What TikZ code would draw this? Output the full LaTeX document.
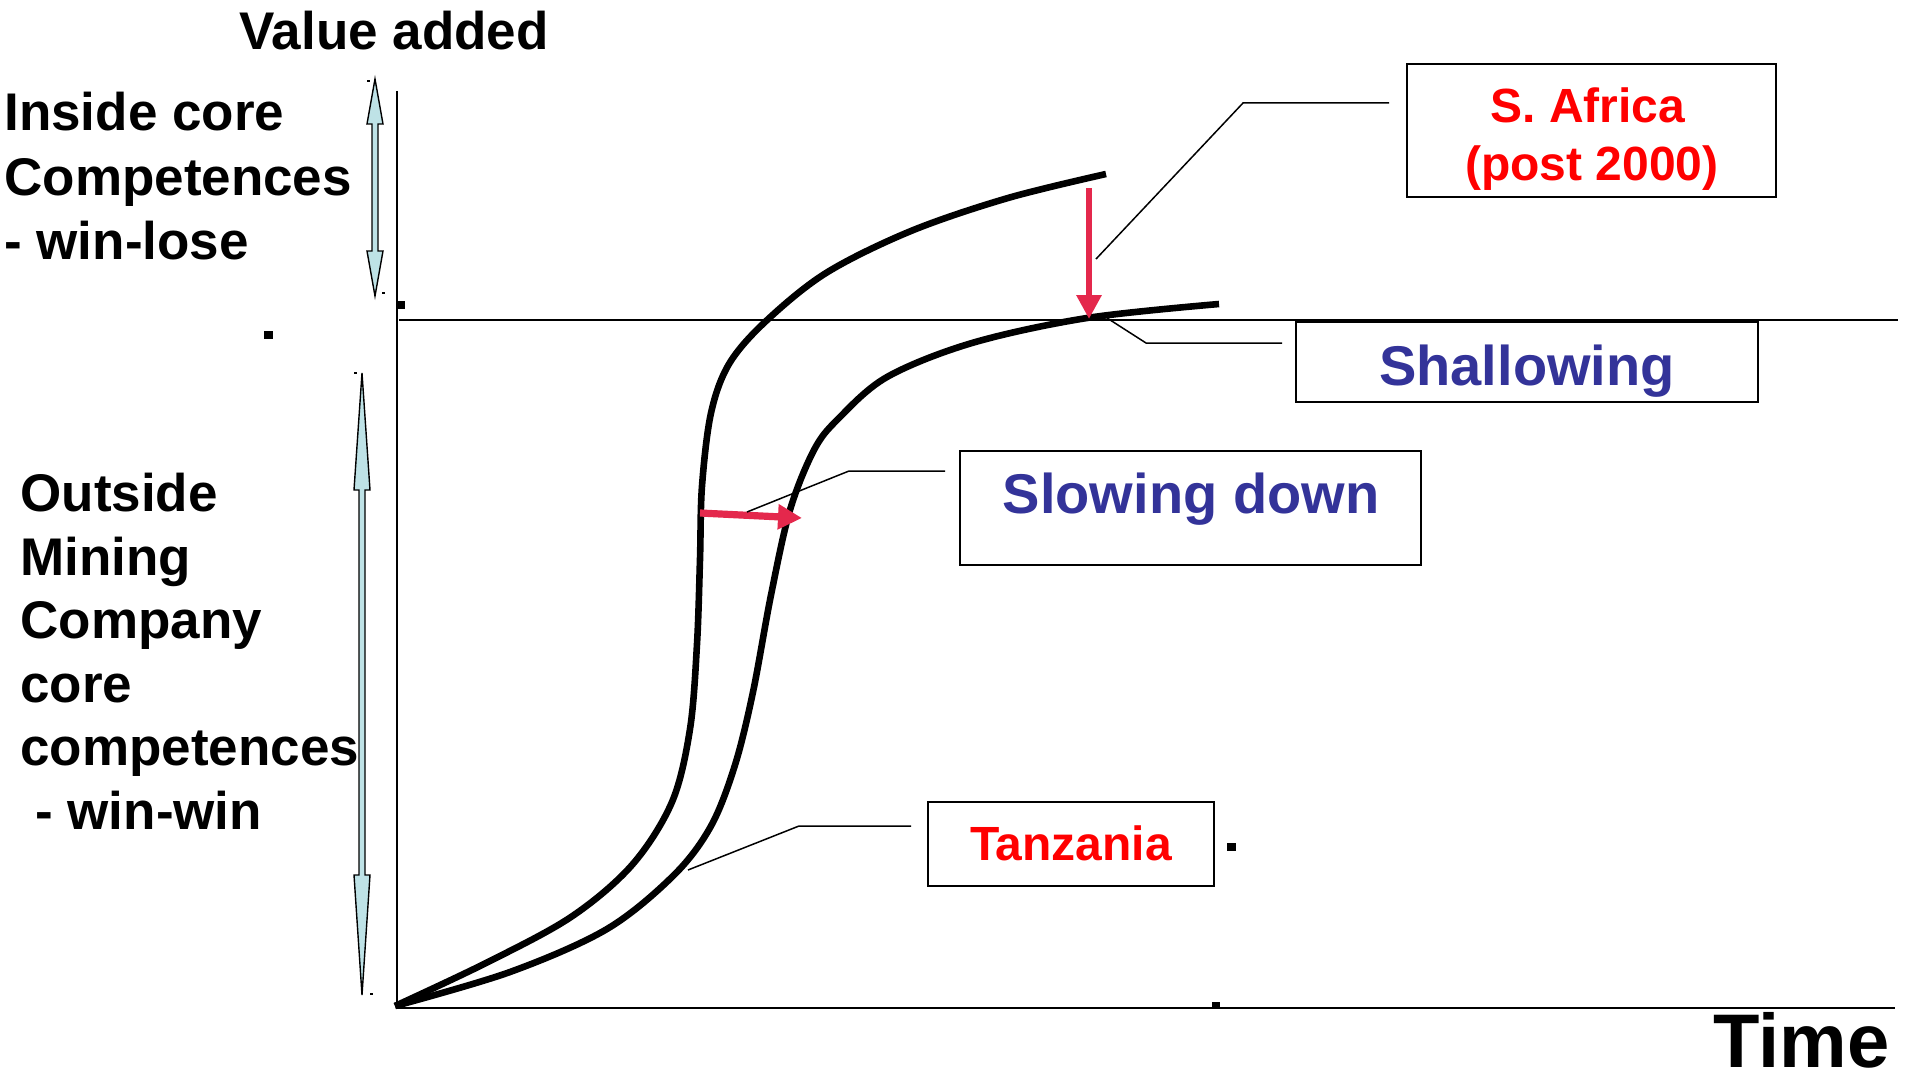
\documentclass[tikz,border=0pt]{standalone}
\usepackage{fontspec}
\setmainfont{Liberation Sans}
\usetikzlibrary{arrows.meta}
\definecolor{redtxt}{RGB}{255,0,0}
\definecolor{bluetxt}{RGB}{51,51,153}
\definecolor{crim}{RGB}{228,40,76}
\definecolor{lblue}{RGB}{190,226,230}
\begin{document}
\begin{tikzpicture}[x=0.5pt,y=-0.5pt,
  lbl/.style={font=\fontsize{26.5}{32}\selectfont\bfseries, anchor=base west, inner sep=0},
  redt/.style={font=\fontsize{24}{28}\selectfont\bfseries, text=redtxt, anchor=base, inner sep=0},
  bluet/.style={font=\fontsize{28}{33}\selectfont\bfseries, text=bluetxt, anchor=base, inner sep=0},
  timet/.style={font=\fontsize{38}{44}\selectfont\bfseries, anchor=base east, inner sep=0},
  labelbox/.style={draw, line width=1pt, inner sep=0},
  axisline/.style={line width=1pt},
  leader/.style={line width=0.75pt},
  curve/.style={line width=3.3pt, line join=round},
  redarrow/.style={draw=crim, line width=#1, -{Triangle[length=12pt,width=12pt]}, color=crim},
  dblarrow/.style={draw=black, fill=lblue, line width=0.7pt, line join=miter},
  dotsq/.style={fill=black}
]
\useasboundingbox (0,0) rectangle (1905,1081);
\fill[white] (0,0) rectangle (1905,1081);

% axes
\coordinate (O) at (397,1008);
\coordinate (Ytop) at (397,91);
\coordinate (Xend) at (1895,1008);
\coordinate (Hl) at (399,320);
\coordinate (Hr) at (1898,320);
\draw[axisline] (Ytop) -- (O) -- (Xend);
\draw[axisline] (Hl) -- (Hr);

% small squares
\fill[dotsq] (397,301) rectangle (405,309);
\fill[dotsq] (264,331) rectangle (273,339);
\fill[dotsq] (1227,843) rectangle (1236,851);
\fill[dotsq] (1212,1002) rectangle (1220,1009);
\fill[dotsq] (367,80) rectangle (370,82);
\fill[dotsq] (382,292) rectangle (385,294);
\fill[dotsq] (354,372) rectangle (357,374);
\fill[dotsq] (370,993) rectangle (373,995);

% double arrows (light blue)
\draw[dblarrow] (375,79) -- (383,124) -- (378,124) -- (378,251) -- (383,251) -- (375,296)
  -- (367,251) -- (372,251) -- (372,124) -- (367,124) -- cycle;
\draw[dblarrow] (362,373) -- (370,490) -- (365,490) -- (365,875) -- (370,875) -- (362,995)
  -- (354,875) -- (359,875) -- (359,490) -- (354,490) -- cycle;

% curves
\draw[curve] plot[smooth, tension=0.55] coordinates {(395,1006) (486,963) (571,917) (632,865)
  (672,802) (690,729) (697,644) (700,559) (702,486) (711,413) (729,364) (765,322) (826,273)
  (911,231) (1008,198) (1106,174)};
\draw[curve] plot[smooth, tension=0.55] coordinates {(395,1006) (510,972) (607,929) (674,875)
  (711,826) (735,765) (753,692) (771,595) (790,510) (814,450) (838,419) (887,377) (972,343)
  (1087,318) (1219,304)};

% red arrows
\coordinate (rvs) at (1089,188);
\coordinate (rve) at (1089,319);
\coordinate (rhs) at (700,513);
\coordinate (rhe) at (802,518);
\draw[redarrow=3.2pt] (rvs) -- (rve);
\draw[redarrow=3.6pt] (rhs) -- (rhe);

% labels boxes
\node[labelbox, minimum width=184.5pt, minimum height=66.5pt] (safrbox) at (1591.5,130.5) {};
\node[redt] (safr1) at (1588,123) {S. Africa};
\node[redt] (safr2) at (1592,180) {(post 2000)};

\node[labelbox, minimum width=231pt, minimum height=40pt] (shalbox) at (1527,362) {};
\node[bluet] (shal) at (1527,385) {Shallowing};

\node[labelbox, minimum width=230.5pt, minimum height=57pt] (slowbox) at (1190.5,508) {};
\node[bluet] (slow) at (1191,513) {Slowing down};

\node[labelbox, minimum width=143pt, minimum height=42pt] (tanzbox) at (1071,844) {};
\node[redt] (tanz) at (1071,860) {Tanzania};

% leader lines
\coordinate (sa1) at (1389,103);
\coordinate (sa2) at (1243,103);
\coordinate (sa3) at (1096,259);
\draw[leader] (sa1) -- (sa2) -- (sa3);
\coordinate (sh1) at (1282,343);
\coordinate (sh2) at (1146,343);
\coordinate (sh3) at (1107,318);
\draw[leader] (sh1) -- (sh2) -- (sh3);
\coordinate (sl1) at (945,471);
\coordinate (sl2) at (849,471);
\coordinate (sl3) at (747,512);
\draw[leader] (sl1) -- (sl2) -- (sl3);
\coordinate (tz1) at (911,826);
\coordinate (tz2) at (799,826);
\coordinate (tz3) at (688,870);
\draw[leader] (tz1) -- (tz2) -- (tz3);

% axis and side texts
\node[lbl] (va) at (239,50) {Value added};
\node[lbl] (in1) at (4,131) {Inside core};
\node[lbl] (in2) at (4,195) {Competences};
\node[lbl] (in3) at (4,259) {- win-lose};
\node[lbl] (ou1) at (20,511) {Outside};
\node[lbl] (ou2) at (20,575) {Mining};
\node[lbl] (ou3) at (20,638) {Company};
\node[lbl] (ou4) at (20,702) {core};
\node[lbl] (ou5) at (20,765) {competences};
\node[lbl] (ou6) at (35,829) {- win-win};
\node[timet] (time) at (1890,1067) {Time};
\end{tikzpicture}
\end{document}
